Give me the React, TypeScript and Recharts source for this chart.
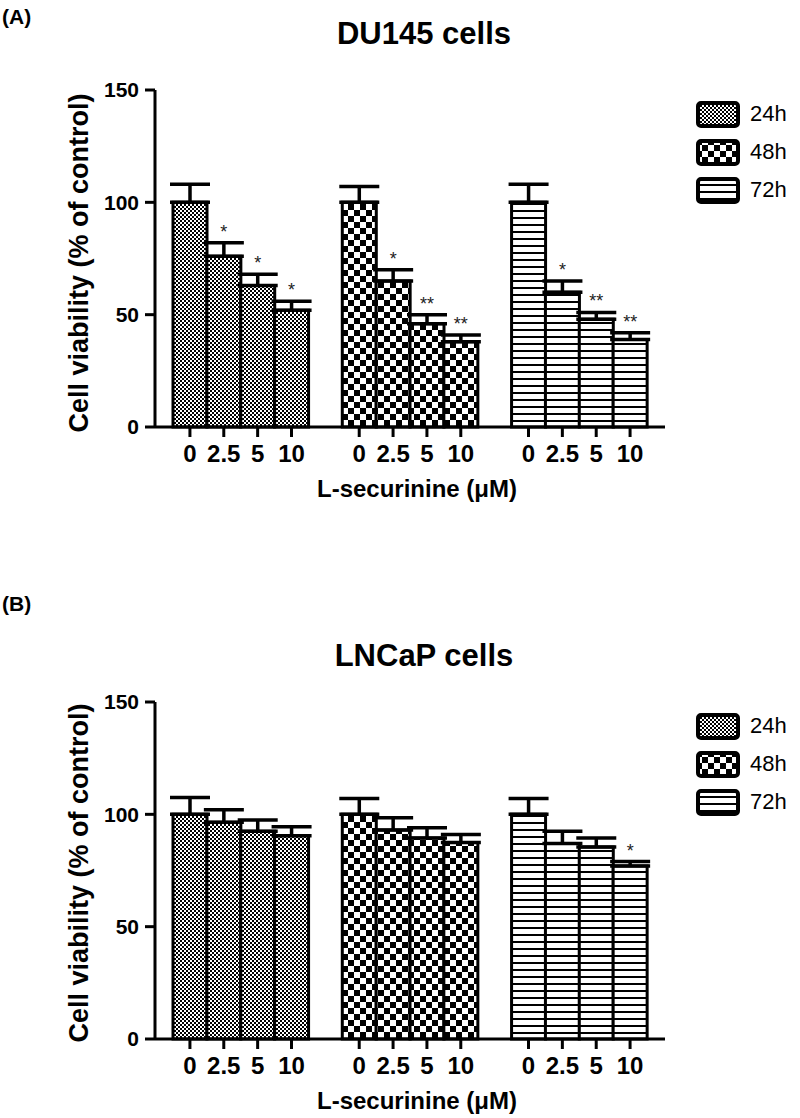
import React from 'react';
import { BarChart, Bar, XAxis, YAxis, ErrorBar, Cell, Legend, LabelList } from 'recharts';

// ---------- data ----------
const doses = ['0', '2.5', '5', '10'];
const times = ['24h', '48h', '72h'];
const yTicks = [0, 50, 100, 150];

// DU145 cells (panel A)
const du145Mean24 = [100, 76, 63, 52];
const du145Mean48 = [100, 65, 46, 38];
const du145Mean72 = [100, 60, 48, 39];
const du145Err24 = [8, 6, 5, 4];
const du145Err48 = [7, 5, 4, 3];
const du145Err72 = [8, 5, 3, 3];
const du145Sig24 = ['', '*', '*', '*'];
const du145Sig48 = ['', '*', '**', '**'];
const du145Sig72 = ['', '*', '**', '**'];

// LNCaP cells (panel B)
const lncapMean24 = [100, 96.5, 92.5, 90.5];
const lncapMean48 = [100, 93, 89.5, 87.5];
const lncapMean72 = [100, 87, 85.5, 77];
const lncapErr24 = [7.5, 5.5, 5, 4];
const lncapErr48 = [7, 5.5, 4.5, 3.5];
const lncapErr72 = [7, 5.5, 4, 2];
const lncapSig24 = ['', '', '', ''];
const lncapSig48 = ['', '', '', ''];
const lncapSig72 = ['', '', '', '*'];

const FONT = '"Liberation Sans", Arial, sans-serif';
const patKeys = ['p24', 'p48', 'p72'];

type Row = { key: string; v: number | null; e: number[] | null; sig: string; pat: string };

function buildRows(means: number[][], errs: number[][], sigs: string[][]): Row[] {
  const rows: Row[] = [];
  times.forEach((t, ti) => {
    if (ti > 0) rows.push({ key: `gap${ti}|`, v: null, e: null, sig: '', pat: '' });
    doses.forEach((d, di) => {
      rows.push({ key: `${t}|${d}`, v: means[ti][di], e: [0, errs[ti][di]], sig: sigs[ti][di], pat: patKeys[ti] });
    });
  });
  return rows;
}

const rowsA = buildRows(
  [du145Mean24, du145Mean48, du145Mean72],
  [du145Err24, du145Err48, du145Err72],
  [du145Sig24, du145Sig48, du145Sig72]
);
const rowsB = buildRows(
  [lncapMean24, lncapMean48, lncapMean72],
  [lncapErr24, lncapErr48, lncapErr72],
  [lncapSig24, lncapSig48, lncapSig72]
);

const DoseTick = (props: any) => {
  const { x, y, payload } = props;
  const label = String(payload.value).split('|')[1] || '';
  if (!label) return null;
  return (
    <g>
      <line x1={x} x2={x} y1={y} y2={y + 10} stroke="#000" strokeWidth={3} />
      <text x={x} y={y + 35} textAnchor="middle" fontSize={24} fontWeight="bold" fontFamily={FONT} fill="#000">
        {label}
      </text>
    </g>
  );
};

// label value carries "sig|err|mean" so the star can sit above the error cap
const sigAccessor = (r: Row) => (r.sig && r.e && r.v != null ? `${r.sig}|${r.e[1]}|${r.v}` : '');

const StarLabel = (props: any) => {
  const vb = props.viewBox || props;
  const { x, y, width, height } = vb;
  const value = props.value;
  if (!value) return null;
  const [sig, errS, meanS] = String(value).split('|');
  const err = Number(errS);
  const mean = Number(meanS);
  if (!sig || !mean) return null;
  const errPx = (err * Math.abs(Number(height))) / mean;
  const capY = Number(y) - errPx;
  return (
    <text x={Number(x) + Number(width) / 2} y={capY - 5} textAnchor="middle" fontSize={18} fontFamily={FONT} fill="#222">
      {sig}
    </text>
  );
};

function Patterns({ id }: { id: string }) {
  return (
    <defs>
      <pattern id={`${id}-p24`} width={4} height={4} patternUnits="userSpaceOnUse">
        <rect width={4} height={4} fill="#fff" />
        <rect x={0} y={0} width={2} height={2} fill="#000" />
        <rect x={2} y={2} width={2} height={2} fill="#000" />
      </pattern>
      <pattern id={`${id}-p48`} width={12} height={12} patternUnits="userSpaceOnUse">
        <rect width={12} height={12} fill="#fff" />
        <rect x={0} y={0} width={6} height={6} fill="#000" />
        <rect x={6} y={6} width={6} height={6} fill="#000" />
      </pattern>
      <pattern id={`${id}-p72`} width={8} height={7} patternUnits="userSpaceOnUse">
        <rect width={8} height={7} fill="#fff" />
        <rect x={0} y={0} width={8} height={2} fill="#000" />
      </pattern>
    </defs>
  );
}

function Panel(props: {
  id: string; title: string; rows: Row[]; top: number; height: number;
  titleY: number; xLabelY: number; yLabelY: number;
}) {
  const { id, title, rows, top, height, titleY, xLabelY, yLabelY } = props;
  const legendContent = () => (
    <div>
      {times.map((t, i) => (
        <div key={t} style={{ display: 'flex', alignItems: 'center', height: 38 }}>
          <svg width={44} height={27} style={{ display: 'block' }}>
            <rect x={2} y={2} width={40} height={23} rx={3} fill={`url(#${id}-${patKeys[i]})`} stroke="#000" strokeWidth={4} />
          </svg>
          <span style={{ marginLeft: 10, fontSize: 22, fontFamily: FONT, color: '#000', lineHeight: '22px' }}>{t}</span>
        </div>
      ))}
    </div>
  );
  return (
    <div style={{ position: 'absolute', left: 0, top, width: 800, height }}>
      <BarChart
        width={800}
        height={500}
        data={rows}
        margin={{ top: 90, right: 35, bottom: 33, left: 95 }}
        barCategoryGap={0}
        barGap={0}
      >
        <Patterns id={id} />
        <XAxis
          dataKey="key"
          type="category"
          interval={0}
          padding={{ left: 18, right: 18 }}
          axisLine={{ stroke: '#000', strokeWidth: 3 }}
          tickLine={false}
          tickSize={0}
          tickMargin={0}
          height={40}
          tick={<DoseTick />}
        />
        <YAxis
          domain={[0, 150]}
          ticks={yTicks}
          width={60}
          axisLine={{ stroke: '#000', strokeWidth: 3 }}
          tickLine={{ stroke: '#000', strokeWidth: 3 }}
          tickSize={10}
          tickMargin={6}
          tick={{ fontSize: 21, fontWeight: 'bold', fill: '#000', fontFamily: FONT }}
        />
        <Legend
          layout="vertical"
          align="right"
          verticalAlign="top"
          width={100}
          wrapperStyle={{ top: 95, left: 696 }}
          content={legendContent}
        />
        <Bar dataKey="v" isAnimationActive={false} stroke="#000" strokeWidth={3}>
          {rows.map((r) => (
            <Cell key={r.key} fill={r.pat ? `url(#${id}-${r.pat})` : 'none'} />
          ))}
          <ErrorBar dataKey="e" direction="y" width={20} stroke="#000" strokeWidth={3.5} isAnimationActive={false} />
          <LabelList dataKey={sigAccessor as any} content={StarLabel} />
        </Bar>
      </BarChart>
      <svg width={800} height={height} style={{ position: 'absolute', left: 0, top: 0, pointerEvents: 'none' }}>
        <text x={424} y={titleY} textAnchor="middle" fontSize={31} fontWeight="bold" fontFamily={FONT} fill="#000">{title}</text>
        <text x={417} y={xLabelY} textAnchor="middle" fontSize={24} fontWeight="bold" fontFamily={FONT} fill="#000">L-securinine (μM)</text>
        <text
          x={79}
          y={yLabelY}
          textAnchor="middle"
          dominantBaseline="central"
          transform={`rotate(-90 79 ${yLabelY})`}
          fontSize={27}
          fontWeight="bold"
          fontFamily={FONT}
          fill="#000"
        >
          Cell viability (% of control)
        </text>
      </svg>
    </div>
  );
}

export default function App() {
  return (
    <div style={{ position: 'absolute', left: 0, top: 0, width: 800, height: 1118, background: '#fff' }}>
      <Panel id="A" title="DU145 cells" rows={rowsA} top={0} height={612}
        titleY={44} xLabelY={497} yLabelY={263} />
      <Panel id="B" title="LNCaP cells" rows={rowsB} top={612} height={506}
        titleY={54} xLabelY={497} yLabelY={261} />
      <svg width={800} height={1118} style={{ position: 'absolute', left: 0, top: 0, pointerEvents: 'none' }}>
        <text x={2} y={24} fontSize={21} fontWeight="bold" fontFamily={FONT} fill="#000">(A)</text>
        <text x={2} y={611} fontSize={21} fontWeight="bold" fontFamily={FONT} fill="#000">(B)</text>
      </svg>
    </div>
  );
}
